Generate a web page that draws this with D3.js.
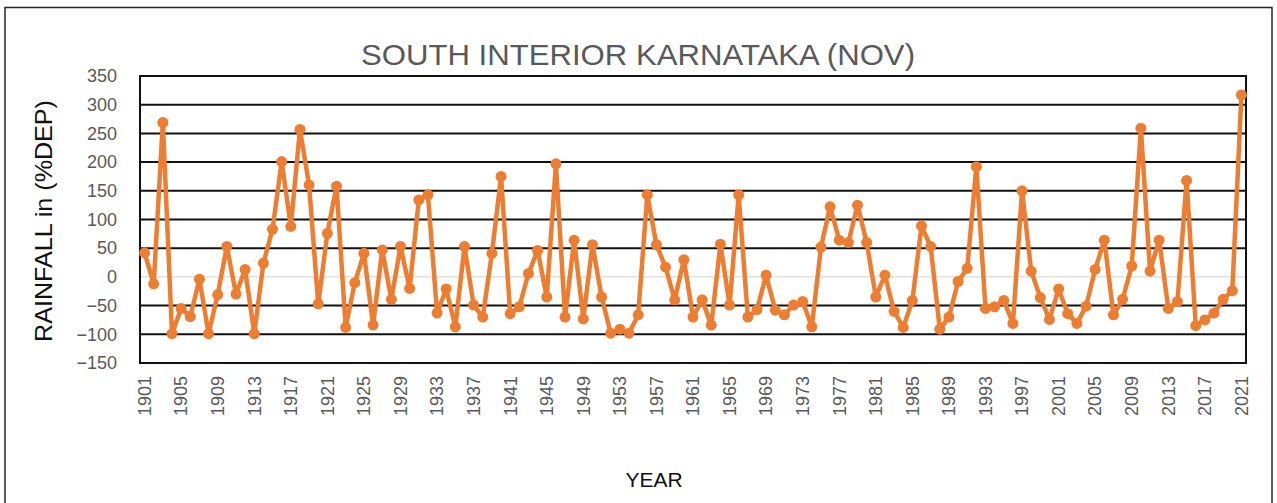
<!DOCTYPE html>
<html>
<head>
<meta charset="utf-8">
<script src="https://cdn.jsdelivr.net/npm/d3@7"></script>
<style>
body { margin: 0; background: #fff; }
text { font-family: "Liberation Sans", "DejaVu Sans", sans-serif; }
</style>
</head>
<body>
<svg class="scene"></svg>
<script>
//
// data
//

var years = d3.range(1901, 2022);

var rainfall = [
    42, -12, 269, -99, -55, -69, -4, -99, -31, 53,
    -30, 13, -99, 24, 83, 201, 88, 257, 160, -47,
    76, 158, -88, -10, 41, -84, 47, -39, 53, -20,
    134, 143, -63, -21, -87, 53, -49, -70, 41, 175,
    -64, -52, 6, 46, -35, 197, -70, 64, -73, 56,
    -35, -98, -91, -98, -66, 143, 56, 17, -40, 30,
    -70, -40, -84, 57, -49, 143, -70, -57, 3, -58,
    -66, -49, -43, -87, 52, 122, 64, 60, 125, 60,
    -35, 3, -60, -88, -41, 89, 53, -91, -70, -8,
    15, 192, -55, -52, -41, -81, 150, 10, -36, -74,
    -21, -64, -81, -51, 13, 64, -66, -39, 19, 259,
    10, 64, -55, -43, 168, -85, -75, -63, -39, -24,
    317
];

var yTicks = [-150, -100, -50, 0, 50, 100, 150, 200, 250, 300, 350];

var title = "SOUTH INTERIOR KARNATAKA (NOV)";

//
// scene
//

var width = 1277,
    height = 503;

var plot = { left: 140, top: 76, right: 1246, bottom: 363 };

var scene = d3.select(".scene")
    .attr("width", width)
    .attr("height", height);

scene.append("rect")
    .attr("x", 5)
    .attr("y", 7.5)
    .attr("width", 1267)
    .attr("height", 520)
    .attr("fill", "#fff")
    .attr("stroke", "#262626")
    .attr("stroke-width", 1.5);

var x = d3.scaleBand()
    .domain(years)
    .range([plot.left, plot.right]);

var y = d3.scaleLinear()
    .domain([-150, 350])
    .range([plot.bottom, plot.top]);

//
// grid
//

scene.selectAll("line.grid")
    .data(yTicks)
    .enter().append("line")
    .attr("class", "grid")
    .attr("x1", plot.left)
    .attr("x2", plot.right)
    .attr("y1", function (d) { return y(d); })
    .attr("y2", function (d) { return y(d); })
    .attr("stroke", function (d) { return d === 0 ? "#cdd5cd" : "#111"; })
    .attr("stroke-width", function (d) { return d === 0 ? 1 : 2; });

scene.append("rect")
    .attr("x", plot.left)
    .attr("y", plot.top)
    .attr("width", plot.right - plot.left)
    .attr("height", plot.bottom - plot.top)
    .attr("fill", "none")
    .attr("stroke", "#111")
    .attr("stroke-width", 2);

// y tick labels
var yAxis = scene.append("g")
    .attr("transform", "translate(" + (plot.left - 23) + ",0)")
    .call(d3.axisLeft(y).tickValues(yTicks).tickSize(0).tickPadding(0));
yAxis.select(".domain").remove();
yAxis.selectAll("text")
    .attr("font-family", "Liberation Sans, sans-serif")
    .attr("font-size", 18)
    .attr("fill", "#595959");

// x tick labels
var xAxis = scene.append("g")
    .attr("transform", "translate(0," + plot.bottom + ")")
    .call(d3.axisBottom(x)
        .tickValues(years.filter(function (d) { return (d - 1901) % 4 === 0; }))
        .tickSize(0)
        .tickPadding(0));
xAxis.select(".domain").remove();
xAxis.selectAll("text")
    .attr("font-family", "Liberation Sans, sans-serif")
    .attr("font-size", 18)
    .attr("fill", "#595959")
    .attr("transform", "rotate(-90)")
    .attr("text-anchor", "end")
    .attr("x", -13)
    .attr("y", 0)
    .attr("dy", "0.35em");

//
// series
//

var pts = years.map(function (d, i) {
    return [x(d) + x.bandwidth() / 2, y(rainfall[i])];
});

scene.append("path")
    .attr("d", d3.line()(pts))
    .attr("fill", "none")
    .attr("stroke", "#ed7d31")
    .attr("stroke-width", 4.5)
    .attr("stroke-linejoin", "round");

scene.selectAll("circle.pt")
    .data(pts)
    .enter().append("circle")
    .attr("class", "pt")
    .attr("cx", function (d) { return d[0]; })
    .attr("cy", function (d) { return d[1]; })
    .attr("r", 5.5)
    .attr("fill", "#ed7d31");

//
// labels
//

scene.append("text")
    .attr("x", 638)
    .attr("y", 65)
    .attr("text-anchor", "middle")
    .attr("font-size", 29)
    .attr("textLength", 554)
    .attr("lengthAdjust", "spacingAndGlyphs")
    .attr("fill", "#595959")
    .text(title);

scene.append("text")
    .attr("transform", "translate(52,221) rotate(-90)")
    .attr("text-anchor", "middle")
    .attr("font-size", 24)
    .attr("textLength", 242)
    .attr("lengthAdjust", "spacingAndGlyphs")
    .attr("fill", "#111")
    .text("RAINFALL in (%DEP)");

scene.append("text")
    .attr("x", 654)
    .attr("y", 487)
    .attr("text-anchor", "middle")
    .attr("font-size", 21)
    .attr("fill", "#111")
    .text("YEAR");
</script>
</body>
</html>
